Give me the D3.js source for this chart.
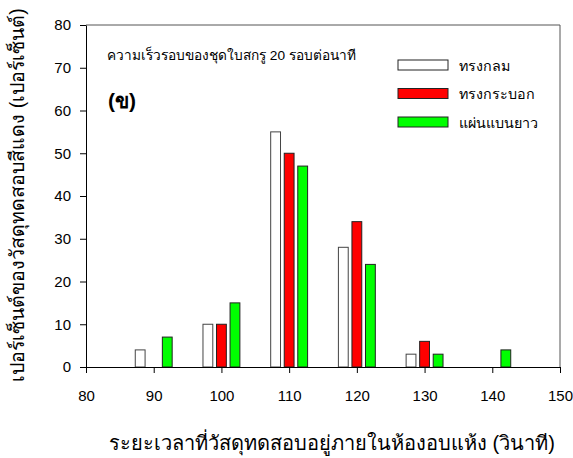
<!DOCTYPE html>
<html lang="th">
<head>
  <meta charset="UTF-8">
  <title>Bar chart</title>
  <script src="https://d3js.org/d3.v7.min.js"></script>
  <style>
    body { margin: 0; background: white; font-family: "Liberation Sans", Arial, sans-serif; }
    svg { display: block; }
    .tick text { font-size: 15px; fill: #000; font-family: "Liberation Sans", Arial, sans-serif; }
  </style>
</head>
<body>
  <svg width="573" height="458"></svg>
  <script>
    const groups = [90, 100, 110, 120, 130, 140];
    const seriesNames = ["ทรงกลม", "ทรงกระบอก", "แผ่นแบนยาว"];
    const seriesColors = ["#ffffff", "#ff0000", "#00ff00"];
    const seriesOffsets = [-2, 0, 2];
    const sphere = [4, 10, 55, 28, 3, 0];
    const cylinder = [0, 10, 50, 34, 6, 0];
    const flat = [7, 15, 47, 24, 3, 4];
    const values = [sphere, cylinder, flat];
    const xTicks = [80, 90, 100, 110, 120, 130, 140, 150];
    const yTicks = [0, 10, 20, 30, 40, 50, 60, 70, 80];

    const svg = d3.select("svg");
    const m = { left: 86, right: 560, top: 25, bottom: 367 };

    const x = d3.scaleLinear().domain([80, 150]).range([m.left, m.right]);
    const y = d3.scaleLinear().domain([0, 80]).range([m.bottom, m.top]);
    const barW = x(81.45) - x(80);

    // frame (top + right)
    svg.append("path")
      .attr("d", `M${m.left},${m.top}H${m.right}V${m.bottom}`)
      .attr("fill", "none").attr("stroke", "#555").attr("stroke-width", 1);

    // bars
    values.forEach((vals, s) => {
      svg.append("g").selectAll("rect")
        .data(groups.map((g, i) => ({ g, v: vals[i] })).filter(d => d.v > 0))
        .join("rect")
        .attr("x", d => x(d.g + seriesOffsets[s]) - barW / 2)
        .attr("y", d => y(d.v))
        .attr("width", barW)
        .attr("height", d => y(0) - y(d.v))
        .attr("fill", seriesColors[s])
        .attr("stroke", s === 0 ? "#444" : "#222")
        .attr("stroke-width", 1);
    });

    const xAxis = svg.append("g")
      .attr("transform", `translate(0,${m.bottom})`)
      .call(d3.axisBottom(x).tickValues(xTicks).tickSize(6).tickSizeOuter(0).tickPadding(17));
    const yAxis = svg.append("g")
      .attr("transform", `translate(${m.left},0)`)
      .call(d3.axisLeft(y).tickValues(yTicks).tickSize(6).tickSizeOuter(0).tickPadding(9));
    [xAxis, yAxis].forEach(a => {
      a.select(".domain").attr("stroke", "#000");
      a.selectAll(".tick line").attr("stroke", "#000");
    });

    // annotation
    svg.append("text").attr("x", 107).attr("y", 60)
      .attr("font-size", 13.7).text("ความเร็วรอบของชุดใบสกรู 20 รอบต่อนาที");
    svg.append("text").attr("x", 108).attr("y", 108)
      .attr("font-size", 21).attr("font-weight", "bold").text("(ข)");

    // legend
    const leg = svg.append("g");
    seriesNames.forEach((n, i) => {
      const yy = 65 + i * 28.5;
      leg.append("rect").attr("x", 398).attr("y", yy - 5).attr("width", 50).attr("height", 10)
        .attr("fill", seriesColors[i]).attr("stroke", "#222");
      leg.append("text").attr("x", 459).attr("y", yy + 5.5).attr("font-size", 14.3).text(n);
    });

    // axis titles
    svg.append("text").attr("x", 332).attr("y", 450).attr("text-anchor", "middle")
      .attr("font-size", 20).text("ระยะเวลาที่วัสดุทดสอบอยู่ภายในห้องอบแห้ง (วินาที)");
    svg.append("text").attr("transform", "translate(24,195) rotate(-90)")
      .attr("text-anchor", "middle").attr("font-size", 19.5)
      .text("เปอร์เซ็นต์ของวัสดุทดสอบสีแดง (เปอร์เซ็นต์)");
  </script>
</body>
</html>
